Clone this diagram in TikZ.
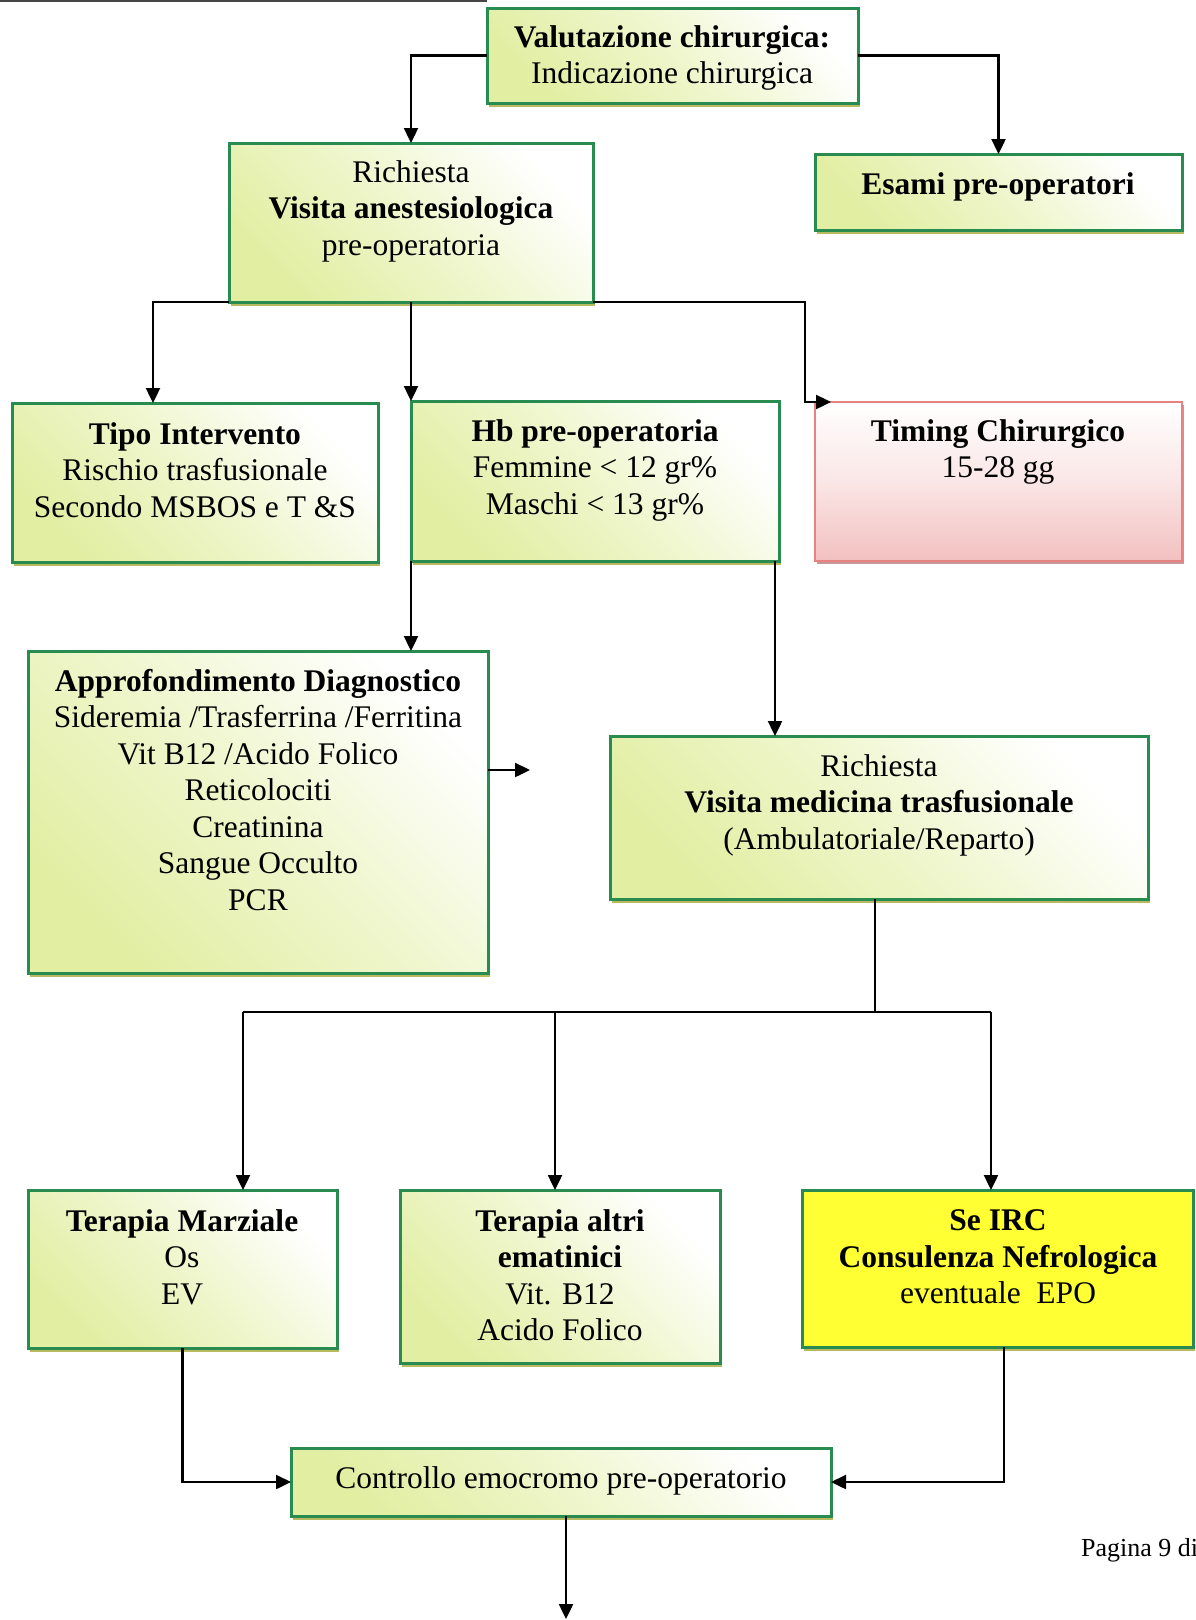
\documentclass[tikz,border=0pt]{standalone}
\usepackage{fontspec}
\setmainfont{Liberation Serif}
\usetikzlibrary{arrows.meta,calc,shadows}
\definecolor{bgreen}{RGB}{40,140,80}
\definecolor{tint}{RGB}{226,238,162}
\definecolor{shad}{RGB}{185,185,95}
\definecolor{pinkb}{RGB}{232,130,130}
\definecolor{pinkf}{RGB}{243,192,192}
\definecolor{pshad}{RGB}{200,150,150}
\definecolor{yel}{RGB}{255,255,51}
\begin{document}
\begin{tikzpicture}[x=1pt,y=-1pt,
  every node/.style={font=\fontsize{31.5}{36.5}\selectfont},
  basebox/.style={inner sep=0pt, outer sep=0pt, anchor=north west},
  box/.style={basebox, draw=bgreen, line width=3pt,
    top color=white, bottom color=tint, middle color=white!45!tint, shading angle=-45,
    general shadow={fill=shad, shadow xshift=2pt, shadow yshift=-4pt}},
  pinkbox/.style={basebox, draw=pinkb, line width=1.6pt,
    top color=white, bottom color=pinkf, middle color=white!60!pinkf,
    general shadow={fill=pshad, shadow xshift=2pt, shadow yshift=-3pt}},
  yelbox/.style={basebox, draw=bgreen, line width=3pt, fill=yel,
    general shadow={fill=shad, shadow xshift=2pt, shadow yshift=-4pt}},
  txt/.style={align=center, inner sep=0pt},
  ln/.style={line width=2.4pt},
  arr/.style={line width=2.4pt, -{Triangle[length=15pt,width=14pt]}}
]
\useasboundingbox (0,0) rectangle (1195,1620);
\draw[line width=2pt, gray!55!black] (0,1) -- (487,1);

% boxes
\node[box, minimum width=371pt, minimum height=95pt] (val) at (487,8) {};
\node[box, minimum width=364pt, minimum height=159pt] (anest) at (229,143) {};
\node[box, minimum width=367pt, minimum height=76pt] (esami) at (815,154) {};
\node[box, minimum width=366pt, minimum height=159pt] (tipo) at (12,403) {};
\node[box, minimum width=368pt, minimum height=160pt] (hb) at (411,401) {};
\node[pinkbox, minimum width=367pt, minimum height=159pt] (timing) at (815,402) {};
\node[box, minimum width=460pt, minimum height=322pt] (appro) at (28,651) {};
\node[box, minimum width=538pt, minimum height=163pt] (visita) at (610,736) {};
\node[box, minimum width=309pt, minimum height=158pt] (marz) at (28,1190) {};
\node[box, minimum width=320pt, minimum height=173pt] (altri) at (400,1190) {};
\node[yelbox, minimum width=391pt, minimum height=157pt] (irc) at (802,1190) {};
\node[box, minimum width=540pt, minimum height=68pt] (ctrl) at (291,1448) {};

% texts
\node[txt] (valt) at (672,58) {\textbf{Valutazione chirurgica:}\\Indicazione chirurgica};
\node[txt] (anestt) at (411,211) {Richiesta\\\textbf{Visita anestesiologica}\\pre-operatoria};
\node[txt] (esamit) at (998,187) {\textbf{Esami pre-operatori}};
\node[txt] (tipot) at (195,470) {\textbf{Tipo Intervento}\\Rischio trasfusionale\\Secondo MSBOS e T \&S};
\node[txt] (hbt) at (595,470) {\textbf{Hb pre-operatoria}\\Femmine < 12 gr\%\\Maschi < 13 gr\%};
\node[txt] (timingt) at (998,452) {\textbf{Timing Chirurgico}\\15-28 gg};
\node[txt] (approt) at (258,790) {\textbf{Approfondimento Diagnostico}\\Sideremia /Trasferrina /Ferritina\\Vit B12 /Acido Folico\\Reticolociti\\Creatinina\\Sangue Occulto\\PCR};
\node[txt] (visitat) at (879,805) {Richiesta\\\textbf{Visita medicina trasfusionale}\\(Ambulatoriale/Reparto)};
\node[txt] (marzt) at (182,1257) {\textbf{Terapia Marziale}\\Os\\EV};
\node[txt] (altrit) at (560,1275) {\textbf{Terapia altri}\\\textbf{ematinici}\\Vit. B12\\Acido Folico};
\node[txt] (irct) at (998,1257) {\textbf{Se IRC}\\\textbf{Consulenza Nefrologica}\\eventuale\ \ EPO};
\node[txt] (ctrlt) at (561,1481) {Controllo emocromo pre-operatorio};
\node[txt, anchor=west, font=\fontsize{26}{30}\selectfont] (pag) at (1081,1550) {Pagina 9 di};

% connectors
\draw[arr] (val.west) -| (anest.north);
\draw[arr] (val.east) -| (esami.north);
\draw[arr] (anest.south west) -| ($(tipo.north west)+(141,0)$);
\draw[arr] (anest.south) -- (anest.south |- hb.north);
\coordinate (tcor) at (805,402);
\draw[arr] (anest.south east) -| (tcor) -- ($(timing.north west)+(16,0)$);
\draw[arr] (hb.south west) -- (hb.south west |- appro.north);
\coordinate (hbr) at ($(hb.south east)+(-4,0)$);
\draw[arr] (hbr) -- (hbr |- visita.north);
\coordinate (stub) at (530,770);
\draw[arr] (appro.east |- stub) -- (stub);
\coordinate (jn) at (875,1012);
\coordinate (jl) at (243,1012);
\coordinate (jm) at (555,1012);
\coordinate (jr) at (991,1012);
\draw[ln] (visita.south -| jn) -- (jn);
\draw[ln] (jl) -- (jr);
\draw[arr] (jl) -- (jl |- marz.north);
\draw[arr] (jm) -- (jm |- altri.north);
\draw[arr] (jr) -- (jr |- irc.north);
\draw[arr] (marz.south) |- (ctrl.west);
\coordinate (ircb) at (1004,1347);
\draw[arr] (irc.south -| ircb) |- (ctrl.east);
\coordinate (endc) at (566,1619);
\draw[arr] (ctrl.south -| endc) -- (endc);
\end{tikzpicture}
\end{document}
